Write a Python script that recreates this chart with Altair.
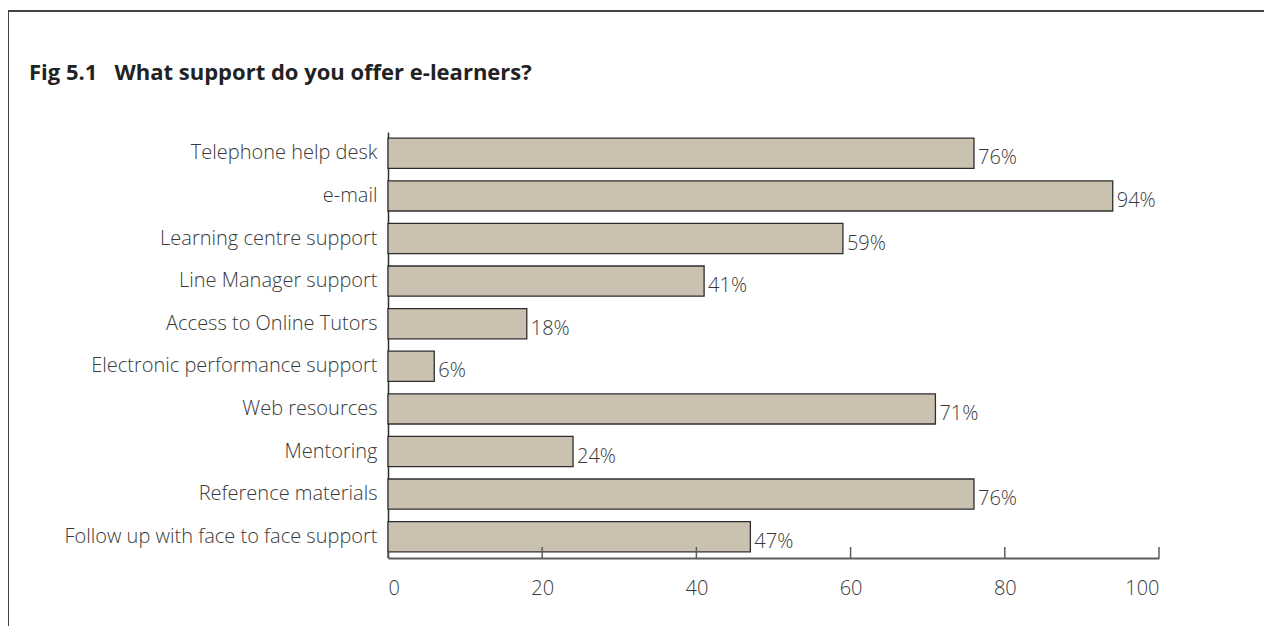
import altair as alt
import pandas as pd

categories = [
    "Telephone help desk",
    "e-mail",
    "Learning centre support",
    "Line Manager support",
    "Access to Online Tutors",
    "Electronic performance support",
    "Web resources",
    "Mentoring",
    "Reference materials",
    "Follow up with face to face support",
]
values = [76, 94, 59, 41, 18, 6, 71, 24, 76, 47]
tick_values = [0, 20, 40, 60, 80, 100]
title_text = ["Fig 5.1\u00a0\u00a0\u00a0What support do you offer e-learners?"]

df = pd.DataFrame({"cat": categories, "val": values})
df["lab"] = df["val"].astype(str) + "%"
ticks_df = pd.DataFrame({"t": tick_values})
title_df = pd.DataFrame({"title": title_text})

FONT = "Open Sans"
TXT = "#3a3a3a"
FS = 20
W, H = 771, 426

x_scale = alt.Scale(domain=[0, 100], nice=False, zero=True)
y_scale = alt.Scale(domain=categories, paddingInner=0.29, paddingOuter=0.145)

bars = alt.Chart(df).mark_bar(
    color="#cbc1b0", stroke="#2e2e2e", strokeWidth=1.3
).encode(
    x=alt.X("val:Q", scale=x_scale,
            axis=alt.Axis(values=tick_values, title=None, grid=False, ticks=False,
                          domainColor="#5c5c5c", domainWidth=2.2, labelPadding=20,
                          labelFont=FONT, labelFontSize=FS, labelColor=TXT,
                          labelFontWeight=300)),
    y=alt.Y("cat:N", scale=y_scale, sort=categories,
            axis=alt.Axis(title=None, ticks=False, domainColor="#2e2e2e", domainWidth=1.5,
                          labelPadding=11, labelFont=FONT, labelFontSize=FS,
                          labelColor=TXT, labelFontWeight=300, labelLimit=400)),
)

labels = alt.Chart(df).mark_text(
    align="left", baseline="middle", dx=4, dy=5, font=FONT, fontSize=FS,
    fontWeight=300, color=TXT
).encode(
    x=alt.X("val:Q", scale=x_scale),
    y=alt.Y("cat:N", scale=y_scale, sort=categories),
    text="lab:N",
)

tick_marks = alt.Chart(ticks_df).mark_rule(color="#5c5c5c", strokeWidth=1.5).encode(
    x=alt.X("t:Q", scale=x_scale),
    y=alt.value(H - 11),
    y2=alt.value(H),
)

frame_left = alt.Chart(ticks_df).mark_rule(color="#444444", strokeWidth=2).encode(
    x=alt.value(-380), y=alt.value(-121), y2=alt.value(H + 200)
)
frame_top = alt.Chart(ticks_df).mark_rule(color="#444444", strokeWidth=2).encode(
    x=alt.value(-381), x2=alt.value(W + 200), y=alt.value(-121)
)

title = alt.Chart(title_df).mark_text(
    align="left", baseline="alphabetic", font=FONT, fontSize=22, fontWeight="bold",
    color="#222222"
).encode(
    x=alt.value(-359), y=alt.value(-52), text="title:N"
)

chart = alt.layer(frame_left, frame_top, bars, tick_marks, labels, title).properties(
    width=W, height=H,
    padding={"left": 380, "top": 124, "right": 105, "bottom": 68},
    autosize=alt.AutoSizeParams(type="none"),
).configure(background="white", view=alt.ViewConfig(strokeWidth=0))

chart.save("out.html", embed_options={"renderer": "svg", "actions": False})
